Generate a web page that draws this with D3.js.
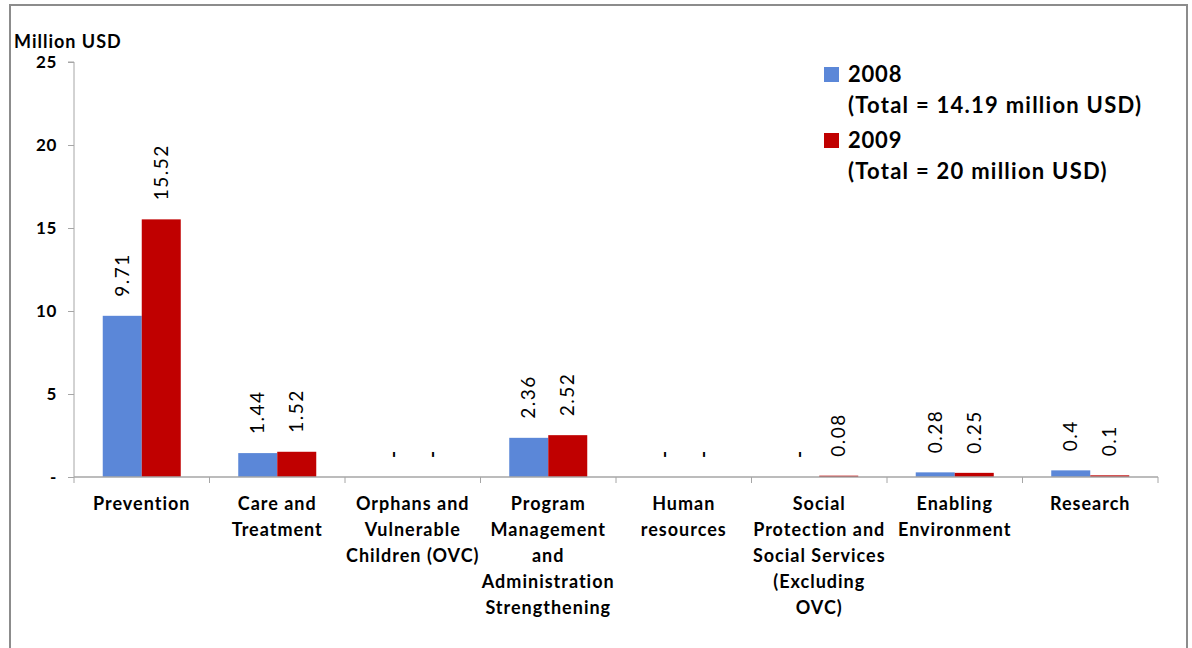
<!DOCTYPE html>
<html>
<head>
<meta charset="utf-8">
<script src="https://cdn.jsdelivr.net/npm/d3@7"></script>
<style>
  html, body { margin: 0; padding: 0; background: #fff; }
  svg { display: block; }
  text { font-family: Lato, "Open Sans", sans-serif; fill: #000; }
</style>
</head>
<body>
<svg id="chart" width="1192" height="648"></svg>
<script>
// Category labels, one entry per wrapped line
const categories = [
  ["Prevention"],
  ["Care and", "Treatment"],
  ["Orphans and", "Vulnerable", "Children (OVC)"],
  ["Program", "Management", "and", "Administration", "Strengthening"],
  ["Human", "resources"],
  ["Social", "Protection and", "Social Services", "(Excluding", "OVC)"],
  ["Enabling", "Environment"],
  ["Research"]
];
// Spending in million USD; null = no allocation (shown as "-")
const values2008 = [9.71, 1.44, null, 2.36, null, null, 0.28, 0.4];
const values2009 = [15.52, 1.52, null, 2.52, null, 0.08, 0.25, 0.1];
const seriesNames = ["2008", "2009"];
const seriesTotals = ["(Total = 14.19 million USD)", "(Total = 20 million USD)"];
const yTicks = [0, 5, 10, 15, 20, 25];

const colors = ["#5b87d8", "#c00000"];
const svg = d3.select("#chart");

// outer frame
svg.append("rect")
  .attr("x", 10).attr("y", 5).attr("width", 1177).attr("height", 660)
  .attr("fill", "none").attr("stroke", "#8c8c8c").attr("stroke-width", 2);

const plot = { left: 74, right: 1158, top: 62, bottom: 477 };

const x = d3.scaleBand()
  .domain(d3.range(categories.length))
  .range([plot.left, plot.right])
  .paddingInner(0).paddingOuter(0);

const x1 = d3.scaleBand()
  .domain([0, 1])
  .range([0, x.bandwidth()])
  .paddingInner(0)
  .paddingOuter(0.737);

const y = d3.scaleLinear().domain([0, 25]).range([plot.bottom, plot.top]);

const series = [values2008, values2009];

// bars
series.forEach((vals, s) => {
  svg.append("g").selectAll("rect")
    .data(vals.map((v, i) => ({ v, i })).filter(d => d.v !== null))
    .join("rect")
    .attr("x", d => x(d.i) + x1(s))
    .attr("width", x1.bandwidth())
    .attr("y", d => y(d.v))
    .attr("height", d => y(0) - y(d.v))
    .attr("fill", colors[s]);
});

// y axis
const yAxis = d3.axisLeft(y)
  .tickValues(yTicks)
  .tickSize(6)
  .tickFormat(d => d === 0 ? "-" : d);
const gy = svg.append("g")
  .attr("transform", `translate(${plot.left},0)`)
  .call(yAxis);
gy.select(".domain").attr("stroke", "#a6a6a6").attr("d", `M-6,${plot.top}H0V${plot.bottom}`);
gy.selectAll(".tick line").attr("stroke", "#a6a6a6");
gy.selectAll(".tick text")
  .attr("x", -17)
  .style("font-family", "Lato, sans-serif")
  .style("font-weight", "bold")
  .style("font-size", "17px")
  .style("letter-spacing", "0.6px")
  .attr("fill", "#000");

// x axis line + boundary ticks
const gx = svg.append("g");
gx.append("line")
  .attr("x1", plot.left).attr("x2", plot.right)
  .attr("y1", y(0)).attr("y2", y(0))
  .attr("stroke", "#a6a6a6").attr("stroke-width", 1.5);
gx.selectAll("line.tk")
  .data(d3.range(categories.length + 1))
  .join("line")
  .attr("class", "tk")
  .attr("x1", i => i < categories.length ? x(i) : plot.right)
  .attr("x2", i => i < categories.length ? x(i) : plot.right)
  .attr("y1", y(0)).attr("y2", y(0) + 6)
  .attr("stroke", "#a6a6a6");

// category labels
const lineH = 26;
gx.selectAll("text.cat")
  .data(categories)
  .join("text")
  .attr("class", "cat")
  .attr("text-anchor", "middle")
  .style("font-weight", "bold")
  .style("font-size", "18px")
  .style("letter-spacing", "1px")
  .each(function (lines, i) {
    d3.select(this).selectAll("tspan")
      .data(lines)
      .join("tspan")
      .attr("x", x(i) + x.bandwidth() / 2)
      .attr("y", (d, k) => 510 + k * lineH)
      .text(d => d);
  });

// value labels, rotated
series.forEach((vals, s) => {
  svg.append("g").selectAll("text")
    .data(vals.map((v, i) => ({ v, i })))
    .join("text")
    .attr("transform", d => {
      const cx = x(d.i) + x1(s) + x1.bandwidth() / 2;
      const cy = y(d.v === null ? 0 : d.v) - 19;
      return `translate(${cx},${cy}) rotate(-90)`;
    })
    .attr("text-anchor", "start")
    .attr("dy", "0.35em")
    .style("font-size", "19px")
    .style("letter-spacing", "1.5px")
    .style("font-weight", d => d.v === null ? "bold" : "normal")
    .text(d => d.v === null ? "-" : String(d.v));
});

// y axis title
svg.append("text")
  .attr("x", 14).attr("y", 48)
  .style("font-weight", "bold")
  .style("font-size", "18px")
  .style("letter-spacing", "1px")
  .text("Million USD");

// legend
const legend = svg.append("g");
seriesNames.forEach((name, s) => {
  const top = 64 + s * 66;
  legend.append("rect")
    .attr("x", 824).attr("y", top + 3)
    .attr("width", 15).attr("height", 15)
    .attr("fill", colors[s]);
  legend.append("text")
    .attr("x", 848).attr("y", top + 18)
    .style("font-weight", "bold")
    .style("font-size", "22px")
    .style("letter-spacing", "0.8px")
    .text(name);
  legend.append("text")
    .attr("x", 848).attr("y", top + 49)
    .style("font-weight", "bold")
    .style("font-size", "22px")
    .style("letter-spacing", "1.25px")
    .text(seriesTotals[s]);
});
</script>
</body>
</html>
